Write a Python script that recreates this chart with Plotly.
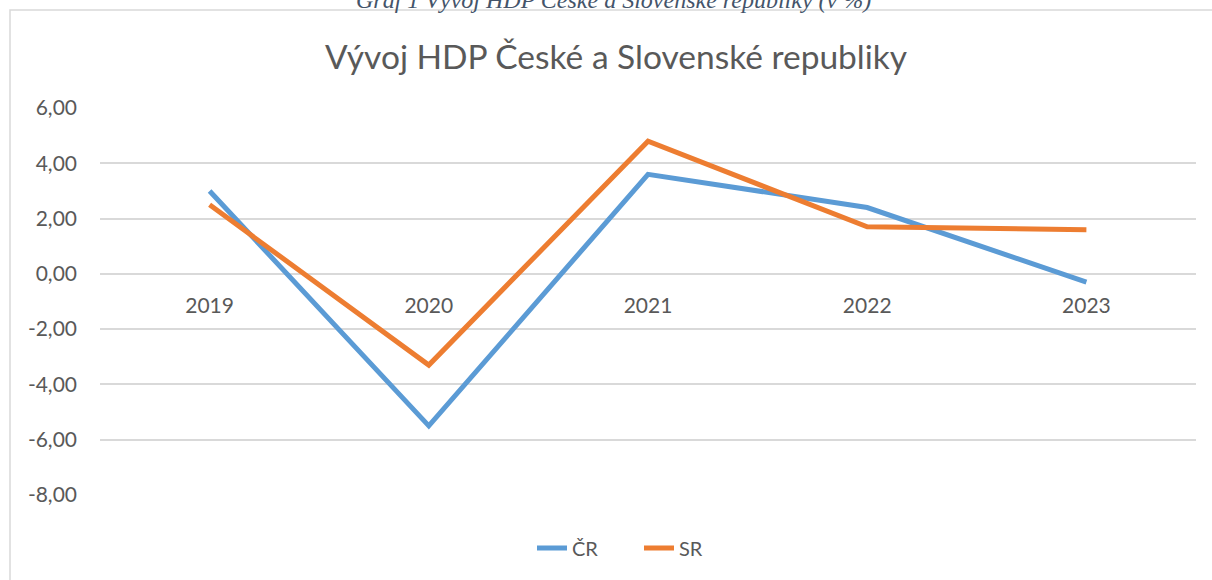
import plotly.graph_objects as go

years = ["2019", "2020", "2021", "2022", "2023"]
cr_values = [3.0, -5.5, 3.6, 2.4, -0.3]
sr_values = [2.5, -3.3, 4.8, 1.7, 1.6]
y_ticks = [-8, -6, -4, -2, 0, 2, 4, 6]
y_tick_labels = [f"{v:.2f}".replace(".", ",") for v in y_ticks]

title_text = "Vývoj HDP České a Slovenské republiky"
caption_text = "Graf 1 Vývoj HDP České a Slovenské republiky (v %)"

W, H = 1212, 580
L, R, T, B = 100, 16, 108, 85
pw, ph = W - L - R, H - T - B

def px_x(px):
    return (px - L) / pw

def px_y(py):
    return (H - B - py) / ph

FONT = "Lato"
GRAY = "#595959"
GRID = "#D9D9D9"

fig = go.Figure()
fig.add_trace(go.Scatter(x=years, y=cr_values, mode="lines", name="ČR",
                         line=dict(color="#5B9BD5", width=5)))
fig.add_trace(go.Scatter(x=years, y=sr_values, mode="lines", name="SR",
                         line=dict(color="#ED7D31", width=5)))

fig.update_layout(
    width=W, height=H,
    margin=dict(l=L, r=R, t=T, b=B, pad=0),
    paper_bgcolor="white", plot_bgcolor="white",
    font=dict(family=FONT, color=GRAY, size=21),
    title=dict(text=title_text, x=px_x(616), xanchor="center", xref="paper",
               y=1 - 57 / H, yanchor="middle",
               font=dict(family=FONT, size=33.5, color=GRAY)),
    showlegend=True,
    legend=dict(orientation="h", x=px_x(639), xanchor="center", y=px_y(548), yanchor="middle",
                entrywidth=62, entrywidthmode="pixels",
                font=dict(family=FONT, size=20, color=GRAY), bgcolor="rgba(0,0,0,0)"),
    xaxis=dict(type="category", range=[-0.5, 4.5], showgrid=False, zeroline=False,
               showline=False, anchor="free", position=px_y(273.3),
               ticks="", ticklabelstandoff=18, tickfont=dict(family=FONT, size=21, color=GRAY)),
    yaxis=dict(range=[-8, 6], tickvals=y_ticks, ticktext=y_tick_labels,
               showgrid=True, gridcolor=GRID, gridwidth=1.5, zeroline=True,
               zerolinecolor=GRID, zerolinewidth=1.5, showline=False, ticks="",
               ticklabelstandoff=22, tickfont=dict(family=FONT, size=21, color=GRAY)),
)

# chart border (Excel chart area outline)
fig.add_shape(type="rect", xref="paper", yref="paper",
              x0=px_x(10), x1=px_x(W + 20), y0=px_y(H + 20), y1=px_y(10),
              line=dict(color=GRID, width=1.5), fillcolor="rgba(0,0,0,0)", layer="below")

# document caption, partly cut off at the top
fig.add_annotation(text=caption_text, xref="paper", yref="paper",
                   x=px_x(613), y=px_y(15), xanchor="center", yanchor="bottom",
                   showarrow=False,
                   font=dict(family="Liberation Serif", size=24, color="#44546A", style="italic"))

fig.write_html("out.html", config={"displayModeBar": False},
               post_script="document.body.style.margin='0px';")
